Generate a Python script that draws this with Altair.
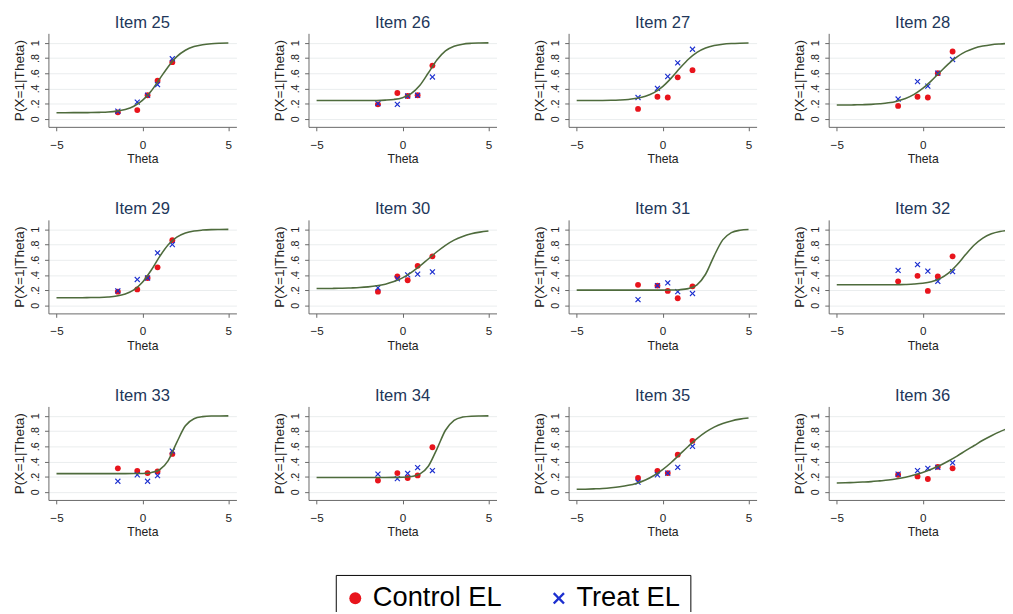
import altair as alt
import pandas as pd

# ---------------- data ----------------
THETA_GRID = [-5.0, -4.5, -4.0, -3.5, -3.0, -2.5, -2.0, -1.5, -1.0, -0.5, 0.0,
              0.5, 1.0, 1.5, 2.0, 2.5, 3.0, 3.5, 4.0, 4.5, 5.0]
THETA_OBS = [-1.43, -0.30, 0.30, 0.88, 1.74]
ITEMS = [25, 26, 27, 28, 29, 30, 31, 32, 33, 34, 35, 36]
GROUPS = ["Control EL", "Treat EL"]

CURVE_25 = [0.080, 0.080, 0.081, 0.081, 0.082, 0.085, 0.090, 0.101, 0.123, 0.166, 0.242, 0.363, 0.524, 0.686, 0.818, 0.902, 0.950, 0.975, 0.988, 0.994, 0.997]
CTRL_25 = [0.085, 0.115, 0.31, 0.50, 0.745]
TREAT_25 = [0.10, 0.22, 0.31, 0.45, 0.79]

CURVE_26 = [0.240, 0.240, 0.240, 0.240, 0.240, 0.240, 0.241, 0.242, 0.246, 0.255, 0.278, 0.330, 0.437, 0.602, 0.773, 0.893, 0.954, 0.982, 0.993, 0.997, 0.999]
CTRL_26 = [0.19, 0.34, 0.30, 0.31, 0.70]
TREAT_26 = [0.20, 0.19, 0.30, 0.31, 0.55]

CURVE_27 = [0.240, 0.240, 0.241, 0.242, 0.244, 0.248, 0.255, 0.269, 0.296, 0.344, 0.423, 0.535, 0.664, 0.784, 0.874, 0.931, 0.964, 0.981, 0.990, 0.995, 0.998]
CTRL_27 = [0.13, 0.29, 0.28, 0.545, 0.64]
TREAT_27 = [0.28, 0.40, 0.557, 0.736, 0.915]

CURVE_28 = [0.181, 0.182, 0.183, 0.186, 0.190, 0.198, 0.210, 0.232, 0.267, 0.321, 0.399, 0.499, 0.612, 0.723, 0.815, 0.883, 0.929, 0.957, 0.975, 0.985, 0.992]
CTRL_28 = [0.17, 0.29, 0.28, 0.60, 0.885]
TREAT_28 = [0.26, 0.49, 0.43, 0.60, 0.78]

CURVE_29 = [0.100, 0.100, 0.100, 0.101, 0.102, 0.104, 0.110, 0.122, 0.149, 0.203, 0.303, 0.459, 0.641, 0.797, 0.897, 0.951, 0.978, 0.990, 0.996, 0.998, 0.999]
CTRL_29 = [0.18, 0.21, 0.36, 0.50, 0.857]
TREAT_29 = [0.19, 0.34, 0.36, 0.69, 0.80]

CURVE_30 = [0.221, 0.222, 0.223, 0.225, 0.229, 0.234, 0.243, 0.257, 0.279, 0.313, 0.362, 0.430, 0.515, 0.610, 0.705, 0.790, 0.858, 0.907, 0.941, 0.963, 0.977]
CTRL_30 = [0.18, 0.38, 0.33, 0.52, 0.645]
TREAT_30 = [0.23, 0.35, 0.40, 0.41, 0.44]

CURVE_31 = [0.200, 0.200, 0.200, 0.200, 0.200, 0.200, 0.200, 0.200, 0.200, 0.200, 0.200, 0.202, 0.206, 0.220, 0.270, 0.409, 0.652, 0.861, 0.957, 0.988, 0.997]
CTRL_31 = [0.27, 0.26, 0.19, 0.093, 0.25]
TREAT_31 = [0.076, 0.26, 0.295, 0.18, 0.156]

CURVE_32 = [0.270, 0.270, 0.270, 0.270, 0.270, 0.271, 0.271, 0.272, 0.275, 0.280, 0.290, 0.311, 0.352, 0.424, 0.534, 0.668, 0.793, 0.885, 0.941, 0.971, 0.986]
CTRL_32 = [0.316, 0.388, 0.19, 0.38, 0.645]
TREAT_32 = [0.46, 0.536, 0.45, 0.316, 0.443]

CURVE_33 = [0.240, 0.240, 0.240, 0.240, 0.240, 0.240, 0.240, 0.240, 0.240, 0.241, 0.243, 0.253, 0.291, 0.412, 0.652, 0.869, 0.963, 0.990, 0.998, 0.999, 1.000]
CTRL_33 = [0.31, 0.277, 0.247, 0.268, 0.50]
TREAT_33 = [0.14, 0.225, 0.14, 0.213, 0.536]

CURVE_34 = [0.190, 0.190, 0.190, 0.190, 0.190, 0.190, 0.190, 0.190, 0.190, 0.191, 0.193, 0.202, 0.234, 0.337, 0.563, 0.811, 0.941, 0.984, 0.996, 0.999, 1.000]
CTRL_34 = [0.15, 0.247, 0.183, 0.217, 0.587]
TREAT_34 = [0.234, 0.174, 0.243, 0.32, 0.28]

CURVE_35 = [0.034, 0.036, 0.040, 0.045, 0.054, 0.067, 0.086, 0.115, 0.157, 0.216, 0.293, 0.387, 0.494, 0.601, 0.701, 0.786, 0.852, 0.900, 0.934, 0.957, 0.972]
CTRL_35 = [0.183, 0.277, 0.247, 0.49, 0.672]
TREAT_35 = [0.128, 0.225, 0.247, 0.323, 0.60]

CURVE_36 = [0.117, 0.120, 0.124, 0.129, 0.135, 0.145, 0.156, 0.172, 0.193, 0.221, 0.255, 0.298, 0.348, 0.407, 0.471, 0.542, 0.610, 0.679, 0.739, 0.793, 0.839]
CTRL_36 = [0.226, 0.204, 0.17, 0.33, 0.31]
TREAT_36 = [0.234, 0.28, 0.31, 0.323, 0.383]

CURVES = [CURVE_25, CURVE_26, CURVE_27, CURVE_28, CURVE_29, CURVE_30,
          CURVE_31, CURVE_32, CURVE_33, CURVE_34, CURVE_35, CURVE_36]
CTRLS = [CTRL_25, CTRL_26, CTRL_27, CTRL_28, CTRL_29, CTRL_30,
         CTRL_31, CTRL_32, CTRL_33, CTRL_34, CTRL_35, CTRL_36]
TREATS = [TREAT_25, TREAT_26, TREAT_27, TREAT_28, TREAT_29, TREAT_30,
          TREAT_31, TREAT_32, TREAT_33, TREAT_34, TREAT_35, TREAT_36]

# ---------------- styling ----------------
FONT = "Liberation Sans"
RED = "#e8141c"
BLUE = "#1c2fcf"
LINE = "#4e6b3c"
TITLE_COLOR = "#22375a"
X_SHAPE = "M-1,-0.72L-0.72,-1L0,-0.28L0.72,-1L1,-0.72L0.28,0L1,0.72L0.72,1L0,0.28L-0.72,1L-1,0.72L-0.28,0Z"

PW, PH = 193, 96

legend = alt.Legend(
    title=None, orient="none", legendX=295, legendY=556, direction="horizontal",
    labelFontSize=28, labelFont=FONT, labelColor="#000000", symbolSize=150,
    strokeColor="#000000", padding=10, columnPadding=48, labelOffset=4,
    symbolOffset=-4, symbolStrokeWidth=0,
)


def panel(item, curve, ctrl, treat):
    curve_df = pd.DataFrame({"theta": THETA_GRID, "p": curve})
    pts = pd.DataFrame({
        "theta": THETA_OBS + THETA_OBS,
        "p": ctrl + treat,
        "group": [GROUPS[0]] * len(ctrl) + [GROUPS[1]] * len(treat),
    })
    x = alt.X("theta:Q", title="Theta",
              scale=alt.Scale(domain=[-5.47, 5.47], nice=False, zero=False),
              axis=alt.Axis(values=[-5, 0, 5], grid=False))
    y = alt.Y("p:Q", title="P(X=1|Theta)",
              scale=alt.Scale(domain=[-0.106, 1.124], nice=False, zero=False),
              axis=alt.Axis(values=[0, 0.2, 0.4, 0.6, 0.8, 1], grid=True,
                            labelExpr="replace(format(datum.value, '.1~f'), '0.', '.')"))
    points = alt.Chart(pts).mark_point(filled=True, opacity=1, size=36).encode(
        x=x, y=y,
        color=alt.Color("group:N", scale=alt.Scale(domain=GROUPS, range=[RED, BLUE]), legend=legend),
        shape=alt.Shape("group:N", scale=alt.Scale(domain=GROUPS, range=["circle", X_SHAPE]), legend=legend),
    )
    line = alt.Chart(curve_df).mark_line(color=LINE, strokeWidth=1.6, interpolate="monotone").encode(x=x, y=y)
    return alt.layer(points, line).properties(
        width=PW, height=PH,
        title=alt.TitleParams(f"Item {item}", fontSize=17, font=FONT, fontWeight="normal",
                              color=TITLE_COLOR, offset=2, frame="group", anchor="middle"),
    )


panels = [panel(i, c, r, t) for i, c, r, t in zip(ITEMS, CURVES, CTRLS, TREATS)]
rows = [alt.hconcat(*panels[k:k + 4], spacing=37) for k in range(0, 12, 4)]

chart = alt.vconcat(*rows, spacing=35.5).properties(
    padding={"left": 4.5, "top": -2, "right": -12, "bottom": -19},
    background="white",
).configure_view(stroke=None).configure_axis(
    labelFont=FONT, titleFont=FONT, labelColor="#222222", titleColor="#222222",
    domainColor="#666666", tickColor="#666666", tickSize=4, titleFontWeight="normal",
    gridColor="#e9ecee", gridWidth=1,
).configure_axisX(
    labelFontSize=12, titleFontSize=12.5, labelPadding=9, titlePadding=3,
).configure_axisY(
    labelFontSize=11, titleFontSize=14, labelPadding=4, titlePadding=4,
    labelAngle=-90, labelAlign="center", labelBaseline="bottom",
)

chart.save("out.html", embed_options={"renderer": "svg", "actions": False})
